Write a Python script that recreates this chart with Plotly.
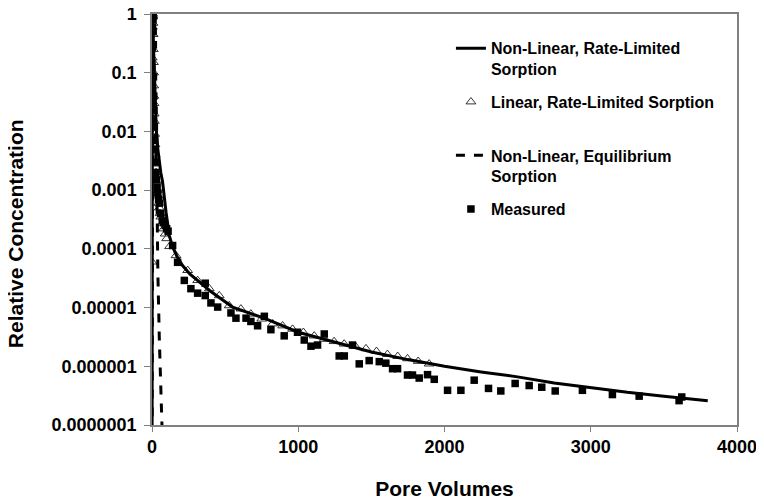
import plotly.graph_objects as go

# Non-linear, rate-limited sorption (solid line)
nl_rate_x = [0, 3, 6, 10, 15, 20, 25, 30, 40, 50, 60, 72, 85, 96, 118, 140, 170, 209,
             260, 323, 400, 551, 779, 1000, 1250, 1500, 1750, 2000, 2250, 2500, 2750,
             3000, 3250, 3500, 3800]
nl_rate_y = [1e-9, 1.0, 0.8, 0.3, 0.1, 0.04, 0.02, 0.01, 0.005, 0.003, 0.002, 1.4e-3,
             7e-4, 4.2e-4, 1.7e-4, 1.1e-4, 7.5e-5, 5.2e-5, 3.7e-5, 2.7e-5, 1.9e-5,
             1.02e-5, 6.4e-6, 3.8e-6, 2.6e-6, 1.75e-6, 1.3e-6, 1.0e-6, 8.0e-7, 6.6e-7,
             5.2e-7, 4.3e-7, 3.6e-7, 3.1e-7, 2.6e-7]

# Linear, rate-limited sorption (open triangles)
lin_rate_x = [0, 1, 2, 3, 4, 5, 6, 7, 8, 9, 10, 11, 12, 13, 14, 15, 16, 18, 20, 22, 25,
              28, 32, 36, 40, 45, 50, 55, 60, 70, 80, 90, 100, 120,
              164, 244, 312, 392, 460, 528, 608, 676, 750, 825, 893, 961, 1035, 1109,
              1178, 1245, 1314, 1390, 1463, 1535, 1610, 1680, 1747, 1820, 1895]
lin_rate_y = [6e-5, 0.015, 0.18, 0.6, 0.95, 1.0, 0.9, 0.7, 0.45, 0.25, 0.15, 0.1, 0.06,
              0.04, 0.03, 0.02, 0.015, 0.009, 0.006, 0.004, 0.0028, 0.002, 0.0014,
              0.001, 8e-4, 6e-4, 5e-4, 4e-4, 3.5e-4, 2.7e-4, 2.2e-4, 1.8e-4, 1.5e-4,
              1.1e-4,
              7.7e-5, 4.3e-5, 2.9e-5, 2.1e-5, 1.6e-5, 1.08e-5, 9.5e-6, 7.8e-6, 6.4e-6,
              5.3e-6, 4.9e-6, 4.3e-6, 3.8e-6, 3.3e-6, 2.9e-6, 2.65e-6, 2.4e-6, 2.2e-6,
              2.0e-6, 1.8e-6, 1.6e-6, 1.48e-6, 1.35e-6, 1.22e-6, 1.1e-6]

# Non-linear, equilibrium sorption (dashed line)
nl_eq_x = [0, 3, 5, 8, 12, 16, 20, 25, 30, 35, 38, 40, 50, 60, 70]
nl_eq_y = [1e-9, 0.5, 1.0, 0.7, 0.2, 0.05, 0.012, 0.004, 0.0015, 5e-4, 1e-4, 4e-5,
           3e-6, 4e-7, 7e-8]

# Measured (filled squares)
meas_x = [2, 3, 4, 5, 6, 7, 8, 9, 10, 12, 14, 16, 18, 20, 23, 26, 30, 35, 40, 45, 50,
          60, 70, 80, 90, 100, 110, 141, 175, 221, 266, 312, 364, 364, 403, 449, 540,
          574, 643, 676, 722, 768, 813, 904, 995, 1041, 1087, 1132, 1178, 1280, 1315,
          1371, 1417, 1485, 1554, 1599, 1645, 1679, 1747, 1781, 1827, 1884, 1930,
          2021, 2112, 2203, 2301, 2385, 2483, 2579, 2665, 2757, 2943, 3148, 3331,
          3604, 3622]
meas_y = [0.27, 0.6, 0.9, 1.0, 0.95, 0.8, 0.5, 0.3, 0.085, 0.04, 0.023, 0.012, 0.007,
          0.005, 0.003, 0.002, 0.0015, 0.0011, 9e-4, 7e-4, 6e-4, 4e-4, 3e-4, 2.8e-4,
          2.5e-4, 2.2e-4, 2.0e-4, 1.14e-4, 5.9e-5, 2.9e-5, 2.1e-5, 1.76e-5, 2.6e-5,
          1.6e-5, 1.2e-5, 1.02e-5, 8.1e-6, 6.6e-6, 6.6e-6, 5.8e-6, 4.9e-6, 7.1e-6,
          4.2e-6, 3.3e-6, 3.8e-6, 2.8e-6, 2.2e-6, 2.3e-6, 3.55e-6, 1.5e-6, 1.5e-6,
          2.3e-6, 1.1e-6, 1.25e-6, 1.2e-6, 1.13e-6, 9.1e-7, 9.1e-7, 7.1e-7, 7.1e-7,
          6.3e-7, 7.2e-7, 6.0e-7, 3.9e-7, 3.9e-7, 5.8e-7, 4.2e-7, 3.8e-7, 5.1e-7,
          4.7e-7, 4.4e-7, 3.8e-7, 3.9e-7, 3.3e-7, 3.1e-7, 2.6e-7, 3.0e-7]

y_tickvals = [1, 0.1, 0.01, 0.001, 0.0001, 0.00001, 0.000001, 0.0000001]
y_ticktext = ["1", "0.1", "0.01", "0.001", "0.0001", "0.00001", "0.000001", "0.0000001"]
x_tickvals = [0, 1000, 2000, 3000, 4000]

FONT = "Liberation Sans, Arial, sans-serif"

fig = go.Figure()
fig.add_trace(go.Scatter(x=nl_rate_x, y=nl_rate_y, mode="lines", legendgroup="a",
                         name="<b>Non-Linear, Rate-Limited<br>Sorption</b>",
                         line=dict(color="black", width=3)))
fig.add_trace(go.Scatter(x=lin_rate_x, y=lin_rate_y, mode="markers", legendgroup="b",
                         name="<b>Linear, Rate-Limited Sorption</b><br> ",
                         marker=dict(symbol="triangle-up-open", size=8.5, color="black",
                                     line=dict(width=0.8, color="black"))))
fig.add_trace(go.Scatter(x=nl_eq_x, y=nl_eq_y, mode="lines", legendgroup="c",
                         name="<b>Non-Linear, Equilibrium<br>Sorption</b>",
                         line=dict(color="black", width=3, dash="dash")))
fig.add_trace(go.Scatter(x=meas_x, y=meas_y, mode="markers", legendgroup="d",
                         name="<b>Measured</b><br> ",
                         marker=dict(symbol="square", size=7.5, color="black")))

# the page body adds an 8 px offset at top/left, so the figure is 8 px smaller
fig.update_layout(
    width=756, height=492,
    margin=dict(l=144, r=27, t=6, b=75),
    paper_bgcolor="white", plot_bgcolor="white",
    font=dict(family=FONT, color="black", size=18),
    showlegend=True,
    legend=dict(x=0.511, y=0.958, xanchor="left", yanchor="top", valign="top",
                font=dict(family=FONT, size=16, color="black"),
                bgcolor="rgba(0,0,0,0)", tracegroupgap=9, itemwidth=30),
    xaxis=dict(range=[0, 4000], tickvals=x_tickvals,
               ticktext=["<b>%d</b>" % v for v in x_tickvals],
               showgrid=False, zeroline=False, automargin=False,
               showline=True, linecolor="#808080", linewidth=1.5, mirror=True,
               ticks="outside", ticklen=5, tickcolor="#808080", ticklabelstandoff=0,
               ticklabeloverflow="allow",
               tickfont=dict(family=FONT, size=18, color="black"),
               title=dict(text="<b>Pore Volumes</b>", font=dict(family=FONT, size=21),
                          standoff=28)),
    yaxis=dict(type="log", range=[-7, 0], tickvals=y_tickvals,
               ticktext=["<b>%s</b>" % t for t in y_ticktext],
               showgrid=False, zeroline=False, automargin=False,
               showline=True, linecolor="#808080", linewidth=1.5, mirror=True,
               ticks="outside", ticklen=6, tickcolor="#808080", ticklabelstandoff=4,
               ticklabeloverflow="allow",
               tickfont=dict(family=FONT, size=18, color="black")),
    annotations=[dict(text="<b>Relative Concentration</b>", textangle=-90,
                      xref="paper", yref="paper", x=-0.232, y=0.465,
                      xanchor="center", yanchor="middle", showarrow=False,
                      font=dict(family=FONT, size=21, color="black"))],
)

fig.write_html("out.html")
